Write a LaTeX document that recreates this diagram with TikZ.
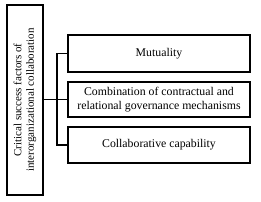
\documentclass[tikz,border=0pt]{standalone}
\usepackage{fontspec}
\setmainfont{Liberation Serif}
\usetikzlibrary{positioning}

\begin{document}
\begin{tikzpicture}[x=1pt,y=-1pt,
  factor/.style={draw,line width=1.5pt,minimum width=182pt,inner sep=0pt,align=center,font=\fontsize{11.8}{13.5}\selectfont},
  link/.style={line width=1.5pt}]
  \useasboundingbox (0,0) rectangle (261,201);
  % heading box
  \node[draw,line width=1.5pt,rotate=90,minimum width=190pt,minimum height=36pt,inner sep=0pt,
    align=center,font=\fontsize{11}{12.5}\selectfont] (crit) at (25,100)
    {Critical success factors of\\interorganizational collaboration};
  % factors
  \node[factor,minimum height=37pt] (mutu) at (159,53.5) {Mutuality};
  \node[factor,minimum height=35pt] (mech) at (159,99.5)
    {Combination of contractual and\\relational governance mechanisms};
  \node[factor,minimum height=36pt] (capa) at (159,145) {Collaborative capability};
  % connectors
  \coordinate (spine) at (57,99.5);
  \draw[link] (crit.south |- mech) -- (mech.west);
  \draw[link] (mutu.west) -| (spine) |- (capa.west);
\end{tikzpicture}
\end{document}
